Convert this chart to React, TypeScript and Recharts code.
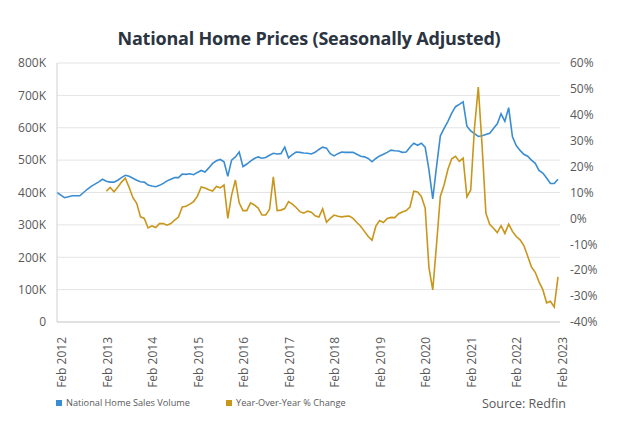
import React from 'react';
import { LineChart, Line, XAxis, YAxis, CartesianGrid } from 'recharts';

const MONTH_NAMES = ['Jan', 'Feb', 'Mar', 'Apr', 'May', 'Jun', 'Jul', 'Aug', 'Sep', 'Oct', 'Nov', 'Dec'];
const START_YEAR = 2012;
const START_MONTH = 1; // Feb

// National Home Sales Volume (thousands), monthly Feb 2012 .. Feb 2023
const salesVolume = [
  400, 392, 384, 387, 390, 390, 390, 400, 410, 419,
  426, 433, 441, 435, 432, 432, 438, 446, 453, 450,
  444, 438, 433, 432, 423, 420, 418, 422, 428, 436,
  441, 446, 446, 457, 456, 458, 455, 462, 468, 463,
  476, 490, 498, 502, 495, 450, 500, 510, 525, 480,
  488, 497, 505, 510, 506, 508, 515, 521, 519, 520,
  540, 507, 517, 525, 524, 522, 521, 519, 524, 533,
  540, 537, 520, 513, 520, 525, 524, 524, 524, 518,
  512, 510, 505, 495, 505, 513, 518, 524, 531, 529,
  528, 524, 525, 540, 552, 546, 552, 540, 470, 380,
  480, 575, 598, 620, 645, 665, 672, 680, 605, 590,
  582, 573, 575, 579, 583, 598, 612, 643, 620, 662,
  572, 545, 530, 518, 512, 500, 490, 468, 460, 445,
  428, 428, 441,
];

// Year-Over-Year % Change, starts Mar 2013
const yoyChange: (number | null)[] = [
  null, null, null, null, null, null, null, null, null, null,
  null, null, null, 10.5, 12.0, 10.3, 12.0, 14.0, 15.5, 12.0,
  8.0, 5.8, 0.6, 0.0, -3.7, -2.9, -3.5, -2.0, -2.0, -2.6,
  -2.0, -0.7, 0.5, 4.4, 4.7, 5.5, 6.5, 8.6, 12.1, 11.7,
  11.1, 10.6, 12.3, 11.8, 12.9, 0, 9, 14.8, 6, 3,
  3, 6, 5.2, 4.0, 1.3, 1.3, 3.5, 16, 3, 3.2,
  3.8, 6.5, 5.5, 4.2, 2.6, 2.0, 2.8, 2.4, 1, 0.5,
  3.7, -1.5, 0, 1.3, 0.8, 0.6, 0.8, 0.9, 0, -1.6,
  -3, -5, -7, -8.4, -3, -0.8, -1.6, 0, 0.4, 0.3,
  1.8, 2.5, 3, 4.4, 10.5, 10.2, 8.5, 4, -19, -27.6,
  -10, 8.5, 13, 19, 23, 24, 22, 23.3, 8.3, 11,
  35, 50.7, 28, 2, -2.3, -3.8, -5.5, -2.8, -5.8, -2.2,
  -5, -7, -8.3, -10.5, -14.5, -18.7, -20.8, -24.5, -27.5, -32.6,
  -32, -34.2, -22.6,
];

const leftTicks = [0, 100, 200, 300, 400, 500, 600, 700, 800];
const rightTicks = [-40, -30, -20, -10, 0, 10, 20, 30, 40, 50, 60];

const months = salesVolume.map((_, i) => {
  const m = START_MONTH + i;
  return `${MONTH_NAMES[m % 12]} ${START_YEAR + Math.floor(m / 12)}`;
});

const data = months.map((month, i) => ({
  month,
  volume: salesVolume[i],
  yoy: yoyChange[i],
}));

const BLUE = '#3a8dd2';
const GOLD = '#c9961c';
const TEXT = '#595959';
const FONT = '"Open Sans", "Noto Sans", sans-serif';

const XTick = (props: any) => {
  const { x, y, payload } = props;
  return (
    <g transform={`translate(${x + 9},${y + 7}) rotate(-90)`}>
      <text x={0} y={0} textAnchor="end" fill={TEXT} fontSize={12} fontFamily={FONT}>
        {payload.value}
      </text>
    </g>
  );
};

export default function App() {
  return (
    <div style={{ position: 'absolute', left: 0, top: 0, width: 624, height: 430, background: '#fff', fontFamily: FONT }}>
      <div
        style={{
          position: 'absolute',
          left: 0,
          width: 618,
          top: 25,
          textAlign: 'center',
          fontSize: 18,
          fontWeight: 700,
          letterSpacing: -0.2,
          color: '#2b3441',
          lineHeight: '26px',
        }}
      >
        National Home Prices (Seasonally Adjusted)
      </div>
      <div style={{ position: 'absolute', left: 0, top: 0 }}>
        <LineChart width={624} height={430} data={data} margin={{ top: 63, right: 0, bottom: 0, left: 0 }}>
          <CartesianGrid horizontal vertical={false} stroke="#e4e4e4" yAxisId="left" />
          <XAxis
            dataKey="month"
            scale="point"
            padding={{ left: 0, right: 2 }}
            interval={11}
            tick={<XTick />}
            tickLine={false}
            axisLine={{ stroke: '#d0d0d0' }}
            height={108}
          />
          <YAxis
            yAxisId="left"
            orientation="left"
            domain={[0, 800]}
            ticks={leftTicks}
            tickFormatter={(v: number) => (v === 0 ? '0' : `${v}K`)}
            width={57}
            tickLine={false}
            axisLine={{ stroke: '#d0d0d0' }}
            tickMargin={5}
            tick={{ fill: TEXT, fontSize: 12, fontFamily: FONT }}
            interval={0}
          />
          <YAxis
            yAxisId="right"
            orientation="right"
            domain={[-40, 60]}
            ticks={rightTicks}
            tickFormatter={(v: number) => `${v}%`}
            width={64}
            tickLine={false}
            axisLine={false}
            tickMargin={4}
            tick={{ fill: TEXT, fontSize: 12, fontFamily: FONT }}
            interval={0}
          />
          <Line
            yAxisId="left"
            type="linear"
            dataKey="volume"
            stroke={BLUE}
            strokeWidth={1.6}
            dot={false}
            isAnimationActive={false}
          />
          <Line
            yAxisId="right"
            type="linear"
            dataKey="yoy"
            stroke={GOLD}
            strokeWidth={1.6}
            dot={false}
            connectNulls={false}
            isAnimationActive={false}
          />
        </LineChart>
      </div>
      <div style={{ position: 'absolute', left: 56, top: 396, display: 'flex', alignItems: 'center', fontSize: 9.2, color: TEXT, lineHeight: '14px' }}>
        <span style={{ display: 'inline-block', width: 6, height: 6, background: BLUE, marginRight: 4 }} />
        <span>National Home Sales Volume</span>
      </div>
      <div style={{ position: 'absolute', left: 226, top: 396, display: 'flex', alignItems: 'center', fontSize: 9.2, color: TEXT, lineHeight: '14px' }}>
        <span style={{ display: 'inline-block', width: 6, height: 6, background: GOLD, marginRight: 4 }} />
        <span>Year-Over-Year % Change</span>
      </div>
      <div style={{ position: 'absolute', right: 58, top: 395, fontSize: 12.5, color: TEXT, lineHeight: '17px' }}>
        Source: Redfin
      </div>
    </div>
  );
}
